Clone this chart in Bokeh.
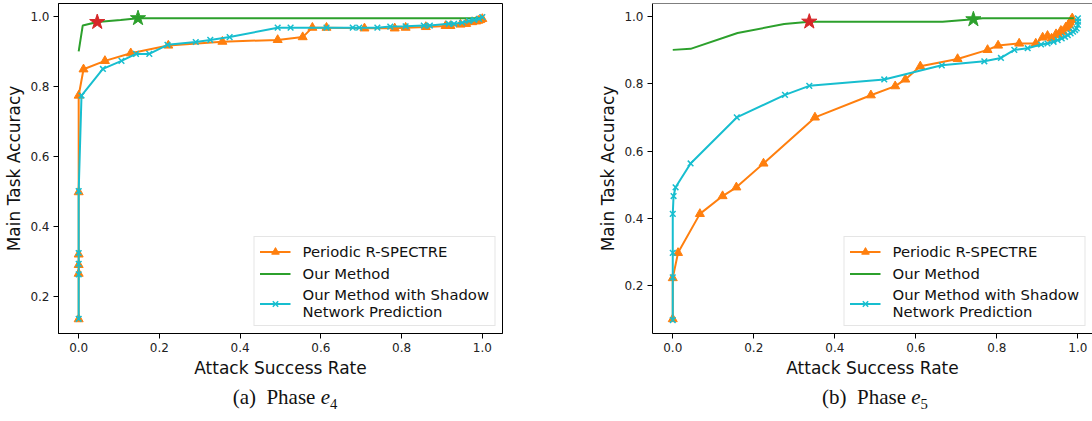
from bokeh.plotting import figure
from bokeh.models import (Legend, LegendItem, FixedTicker, PrintfTickFormatter,
                          Span, Div, Range1d)
from bokeh.layouts import row, column
from bokeh.embed import file_html
from bokeh.resources import INLINE

# ---------------- data: phase e4 ----------------
e4_spectre_x = [0.0, 0.0, 0.0, 0.0, 0.0, 0.0, 0.012, 0.065, 0.129, 0.222, 0.356, 0.493,
                0.555, 0.579, 0.614, 0.708, 0.783, 0.81, 0.86, 0.909, 0.921, 0.946, 0.96,
                0.975, 0.985, 0.99, 0.995, 1.0]
e4_spectre_y = [0.135, 0.265, 0.290, 0.320, 0.498, 0.774, 0.849, 0.873, 0.895, 0.917, 0.928,
                0.933, 0.941, 0.968, 0.968, 0.966, 0.966, 0.968, 0.970, 0.973, 0.973, 0.977,
                0.979, 0.984, 0.986, 0.988, 0.990, 0.993]
e4_ours_x = [0.0, 0.01, 0.046, 0.104, 0.147, 1.0]
e4_ours_y = [0.900, 0.974, 0.984, 0.990, 0.995, 0.995]
e4_shadow_x = [0.0, 0.0, 0.0, 0.0, 0.0, 0.007, 0.06, 0.106, 0.142, 0.175, 0.22, 0.29, 0.326,
               0.374, 0.493, 0.525, 0.614, 0.679, 0.695, 0.74, 0.772, 0.81, 0.855, 0.87,
               0.917, 0.93, 0.95, 0.967, 0.98, 0.992, 1.0]
e4_shadow_y = [0.136, 0.263, 0.293, 0.324, 0.501, 0.774, 0.850, 0.873, 0.893, 0.893, 0.919,
               0.927, 0.933, 0.941, 0.968, 0.968, 0.968, 0.968, 0.968, 0.968, 0.971, 0.972,
               0.974, 0.974, 0.979, 0.979, 0.982, 0.987, 0.990, 0.993, 0.998]
e4_red_star = ([0.046], [0.984])
e4_green_star = ([0.147], [0.995])

# ---------------- data: phase e5 ----------------
e5_spectre_x = [0.0, 0.0, 0.013, 0.067, 0.123, 0.157, 0.224, 0.351, 0.489, 0.549, 0.574,
                0.611, 0.703, 0.777, 0.803, 0.855, 0.896, 0.913, 0.925, 0.935, 0.946, 0.952,
                0.958, 0.963, 0.970, 0.975, 0.978, 0.980, 0.984, 0.986]
e5_spectre_y = [0.100, 0.222, 0.297, 0.413, 0.466, 0.492, 0.563, 0.700, 0.766, 0.793, 0.813,
                0.852, 0.874, 0.901, 0.914, 0.920, 0.920, 0.938, 0.943, 0.935, 0.948, 0.945,
                0.958, 0.955, 0.968, 0.965, 0.975, 0.983, 0.990, 0.995]
e5_ours_x = [0.0, 0.044, 0.16, 0.275, 0.337, 0.666, 0.742, 0.765, 0.99]
e5_ours_y = [0.901, 0.904, 0.951, 0.978, 0.985, 0.985, 0.992, 0.995, 0.995]
e5_shadow_x = [0.0, 0.0, 0.0, 0.0, 0.002, 0.007, 0.044, 0.158, 0.277, 0.337, 0.522, 0.664,
               0.769, 0.81, 0.843, 0.876, 0.909, 0.925, 0.94, 0.95, 0.96, 0.968, 0.975,
               0.982, 0.988, 0.993, 0.997, 1.0, 1.0, 1.0]
e5_shadow_y = [0.097, 0.224, 0.297, 0.413, 0.466, 0.492, 0.563, 0.700, 0.767, 0.794, 0.813,
               0.855, 0.867, 0.877, 0.901, 0.906, 0.917, 0.920, 0.925, 0.930, 0.935, 0.940,
               0.945, 0.950, 0.955, 0.960, 0.965, 0.975, 0.985, 0.995]
e5_red_star = ([0.337], [0.985])
e5_green_star = ([0.742], [0.992])

x_ticks = [0.0, 0.2, 0.4, 0.6, 0.8, 1.0]
y_ticks = [0.2, 0.4, 0.6, 0.8, 1.0]
labels = ["Periodic R-SPECTRE", "Our Method", "Our Method with Shadow\nNetwork Prediction"]

ORANGE = "#ff7f0e"
GREEN = "#2ca02c"
CYAN = "#17becf"
RED = "#d62728"
FONT = "DejaVu Sans"


def make_fig(width, border_left, border_right, x_end, y_start, y_end, data, outline):
    sx, sy, ox, oy, hx, hy, red, green = data
    p = figure(width=width, height=380, x_range=Range1d(-0.05, x_end),
               y_range=Range1d(y_start, y_end), output_backend="svg",
               toolbar_location=None, min_border_left=border_left,
               min_border_right=border_right, min_border_top=3, min_border_bottom=47)
    p.grid.visible = False
    p.background_fill_color = "white"
    p.border_fill_color = "white"
    if outline:
        p.outline_line_color = "black"
        p.outline_line_width = 1
        p.outline_line_alpha = 1
    else:
        p.outline_line_color = None
        p.add_layout(Span(location=y_end, dimension="width", line_color="black",
                          line_width=1))

    for ax in (p.xaxis[0], p.yaxis[0]):
        ax.axis_line_color = "black"
        ax.major_tick_line_color = "black"
        ax.major_tick_in = 0
        ax.major_tick_out = 5
        ax.minor_tick_line_color = None
        ax.major_label_text_font = FONT
        ax.major_label_text_font_size = "12px"
        ax.major_label_text_color = "#222222"
        ax.axis_label_text_font = FONT
        ax.axis_label_text_font_size = "17px"
        ax.axis_label_text_font_style = "normal"
        ax.axis_label_text_color = "#111111"
        ax.formatter = PrintfTickFormatter(format="%.1f")
    p.xaxis[0].ticker = FixedTicker(ticks=x_ticks)
    p.yaxis[0].ticker = FixedTicker(ticks=y_ticks)
    p.xaxis[0].axis_label = "Attack Success Rate"
    p.yaxis[0].axis_label = "Main Task Accuracy"
    p.xaxis[0].major_label_standoff = 4
    p.xaxis[0].axis_label_standoff = 3
    p.yaxis[0].major_label_standoff = 4
    p.yaxis[0].axis_label_standoff = 3

    l1 = p.line(sx, sy, color=ORANGE, line_width=2)
    s1 = p.scatter(sx, sy, marker="triangle", size=9, color=ORANGE)
    l2 = p.line(ox, oy, color=GREEN, line_width=2)
    l3 = p.line(hx, hy, color=CYAN, line_width=2)
    s3 = p.scatter(hx, hy, marker="x", size=8, line_color=CYAN, line_width=1.5)
    p.scatter(red[0], red[1], marker="star", size=16, color=RED)
    p.scatter(green[0], green[1], marker="star", size=16, color=GREEN)

    legend = Legend(items=[LegendItem(label=labels[0], renderers=[l1, s1]),
                           LegendItem(label=labels[1], renderers=[l2]),
                           LegendItem(label=labels[2], renderers=[l3, s3])],
                    location="bottom_right")
    legend.margin = 7
    legend.padding = 5
    legend.spacing = 3
    legend.glyph_width = 31
    legend.glyph_height = 19
    legend.label_height = 19
    legend.label_standoff = 12
    legend.label_text_font = FONT
    legend.label_text_font_size = "14.8px"
    legend.label_text_color = "#111111"
    legend.label_text_line_height = 1.1
    legend.border_line_color = "#cccccc"
    legend.border_line_width = 1
    legend.background_fill_alpha = 0.8
    p.add_layout(legend)
    return p


p1 = make_fig(538, 58, 36, 1.05, 0.094, 1.037,
              (e4_spectre_x, e4_spectre_y, e4_ours_x, e4_ours_y, e4_shadow_x, e4_shadow_y,
               e4_red_star, e4_green_star), True)
p2 = make_fig(554, 114, 0, 1.036, 0.057, 1.039,
              (e5_spectre_x, e5_spectre_y, e5_ours_x, e5_ours_y, e5_shadow_x, e5_shadow_y,
               e5_red_star, e5_green_star), False)

cap_style = ("position:absolute;top:-3px;transform:translateX(-50%);white-space:nowrap;"
             "font-family:'Liberation Serif',serif;font-size:21px;color:#111;")
captions = Div(text=(
    '<div style="position:relative;width:1092px;height:32px;">'
    f'<span style="{cap_style}left:280px;">(a)&ensp;Phase <i>e</i><sub style="font-size:70%">4</sub></span>'
    f'<span style="{cap_style}left:870px;">(b)&ensp;Phase <i>e</i><sub style="font-size:70%">5</sub></span>'
    '</div>'), width=1092, height=32)

layout = column(row(p1, p2), captions)

with open("out.html", "w") as f:
    f.write(file_html(layout, INLINE))
